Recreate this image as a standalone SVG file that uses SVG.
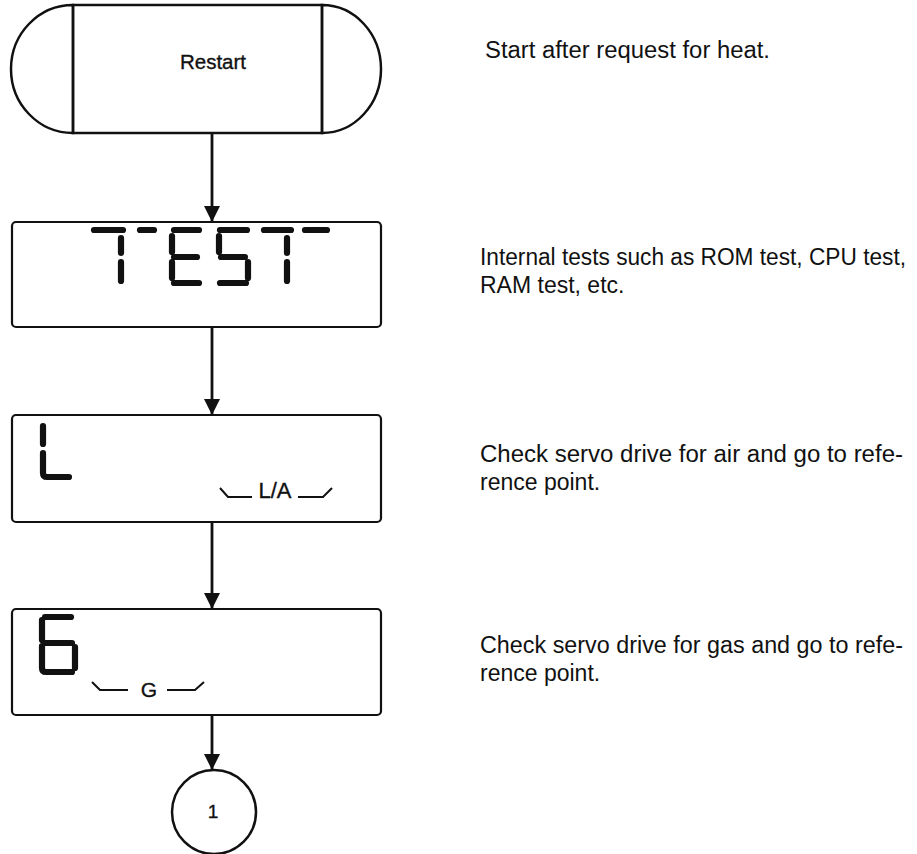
<svg xmlns="http://www.w3.org/2000/svg" width="917" height="854" viewBox="0 0 917 854">
  <style>
    .outline { fill: none; stroke: #111; stroke-width: 2.5; }
    .box { fill: #fff; stroke: #111; stroke-width: 2.2; }
    .seg { fill: none; stroke: #111; stroke-width: 6.2; stroke-linecap: round; stroke-linejoin: round; }
    .brk { fill: none; stroke: #111; stroke-width: 2; stroke-linejoin: miter; }
    .wire { fill: none; stroke: #111; stroke-width: 2.8; }
    .lbl { font-family: "Liberation Sans", Arial, sans-serif; fill: #111; stroke: #111; stroke-width: 0.35; }
    .note { font-family: "Liberation Sans", Arial, sans-serif; font-size: 23px; fill: #111; }
  </style>
  <defs>
    <marker id="arrow" viewBox="0 0 16 16" refX="16" refY="8" markerWidth="16" markerHeight="16" markerUnits="userSpaceOnUse" orient="auto">
      <path d="M0,0 L16,8 L0,16 Z" fill="#111"/>
    </marker>
  </defs>

  <rect width="917" height="854" fill="#fff"/>

  <!-- connectors -->
  <g id="connectors">
    <line class="wire" x1="212" y1="134" x2="212" y2="222" marker-end="url(#arrow)"/>
    <line class="wire" x1="212" y1="327" x2="212" y2="415" marker-end="url(#arrow)"/>
    <line class="wire" x1="212" y1="522" x2="212" y2="609" marker-end="url(#arrow)"/>
    <line class="wire" x1="212" y1="715" x2="212" y2="770" marker-end="url(#arrow)"/>
  </g>

  <!-- start terminal -->
  <g id="restart">
    <path class="outline" d="M73,5 A62,64 0 0 0 73,133 Z"/>
    <path class="outline" d="M322,5 A59,64 0 0 1 322,133 Z"/>
    <rect class="outline" x="73" y="5" width="249" height="128"/>
    <text class="lbl" x="213" y="69" font-size="20.5" text-anchor="middle">Restart</text>
  </g>

  <!-- display: TEST -->
  <g id="display-test">
    <rect class="box" x="12" y="222" width="369" height="105" rx="4"/>
    <!-- 7 -->
    <path class="seg" d="M94,230 H123"/>
    <path class="seg" d="M121,238 V253"/>
    <path class="seg" d="M121,262 V281"/>
    <!-- dash -->
    <path class="seg" d="M140,230 H154"/>
    <!-- E -->
    <path class="seg" d="M174,230 H199"/>
    <path class="seg" d="M172,236 V252"/>
    <path class="seg" d="M174,257 H197"/>
    <path class="seg" d="M172,262 V278"/>
    <path class="seg" d="M174,283 H199"/>
    <!-- 5 -->
    <path class="seg" d="M220,230 H247"/>
    <path class="seg" d="M219,236 V252"/>
    <path class="seg" d="M221,257 H245"/>
    <path class="seg" d="M248,262 V278"/>
    <path class="seg" d="M220,283 H246"/>
    <!-- 7 -->
    <path class="seg" d="M264,230 H291"/>
    <path class="seg" d="M287,238 V253"/>
    <path class="seg" d="M287,262 V281"/>
    <!-- dash -->
    <path class="seg" d="M305,230 H327"/>
  </g>

  <!-- display: L (air) -->
  <g id="display-air">
    <rect class="box" x="12" y="415" width="369" height="107" rx="4"/>
    <path class="seg" d="M43,426 V444"/>
    <path class="seg" d="M43,453 V473 Q43,477 47,477 H69"/>
    <path class="brk" d="M220,488 L228,497 H252"/>
    <text class="lbl" x="275" y="498" font-size="22" text-anchor="middle">L/A</text>
    <path class="brk" d="M298,497 H323 L332,488"/>
  </g>

  <!-- display: 6 (gas) -->
  <g id="display-gas">
    <rect class="box" x="12" y="609" width="369" height="106" rx="4"/>
    <path class="seg" d="M45,617 H71"/>
    <path class="seg" d="M42,620 V640"/>
    <path class="seg" d="M45,643 H72"/>
    <path class="seg" d="M75,647 V668"/>
    <path class="seg" d="M42,646 V668 Q42,672 46,672 H72"/>
    <path class="brk" d="M92,682 L100,690 H128"/>
    <text class="lbl" x="149" y="697" font-size="21" text-anchor="middle">G</text>
    <path class="brk" d="M167,690 H195 L204,682"/>
  </g>

  <!-- off-page connector -->
  <g id="connector-1">
    <circle class="outline" cx="214" cy="812" r="42" fill="#fff"/>
    <text class="lbl" x="213" y="818" font-size="19" text-anchor="middle">1</text>
  </g>

  <!-- descriptions -->
  <g id="notes">
    <text class="note" x="485" y="58" textLength="285" lengthAdjust="spacingAndGlyphs">Start after request for heat.</text>
    <text class="note" x="480" y="265" textLength="426" lengthAdjust="spacingAndGlyphs">Internal tests such as ROM test, CPU test,</text>
    <text class="note" x="480" y="293">RAM test, etc.</text>
    <text class="note" x="480" y="462" textLength="423" lengthAdjust="spacingAndGlyphs">Check servo drive for air and go to refe-</text>
    <text class="note" x="480" y="490">rence point.</text>
    <text class="note" x="480" y="653" textLength="423" lengthAdjust="spacingAndGlyphs">Check servo drive for gas and go to refe-</text>
    <text class="note" x="480" y="681">rence point.</text>
  </g>
</svg>
